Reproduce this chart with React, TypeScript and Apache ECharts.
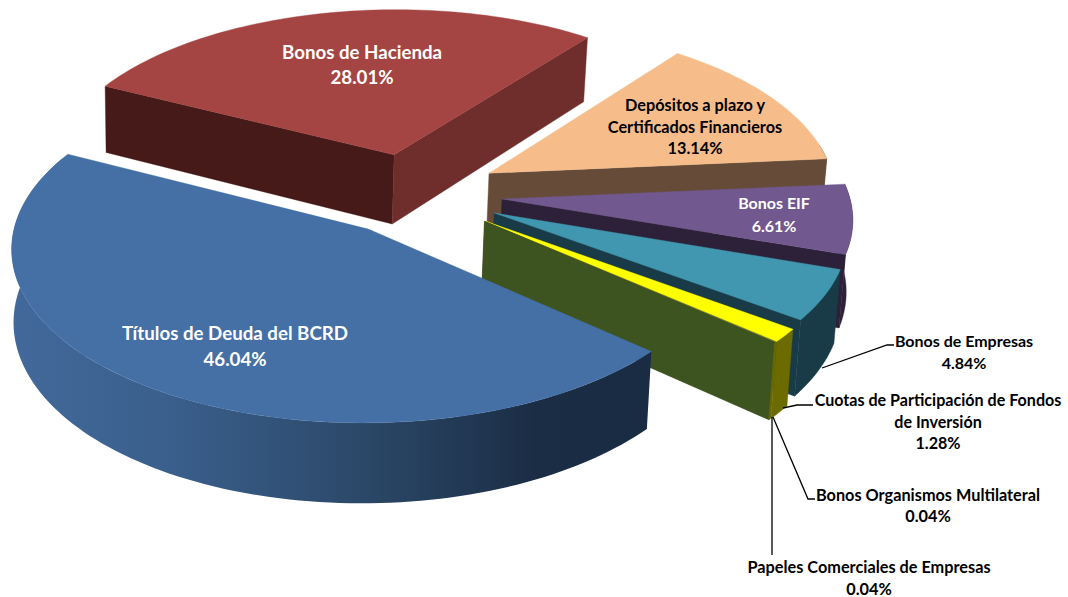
import React, { useEffect, useRef } from "react";
import * as echarts from "echarts";

const categories = [
  "Títulos de Deuda del BCRD",
  "Bonos de Hacienda",
  "Depósitos a plazo y\nCertificados Financieros",
  "Bonos EIF",
  "Bonos de Empresas",
  "Cuotas de Participación de Fondos\nde Inversión",
  "Bonos Organismos Multilateral",
  "Papeles Comerciales de Empresas",
];
const shares = [46.04, 28.01, 13.14, 6.61, 4.84, 1.28, 0.04, 0.04];

// Pie plane style: top colour, start-cut face, end-cut face, rim wall
const topColors = ["#4470A6", "#A54543", "#F6BD8B", "#71588F", "#4097AF", "#FFFF00", "#7F8F60", "#3E5420"];
const startFace = ["#1A2C44", "#451A18", "#664C38", "#2D2139", "#193A47", "#6B6B00", "#3E5420", "#3E5420"];
const endFace = ["#1A2C44", "#6F2D2B", "#664C38", "#2D2139", "#193A47", "#6B6B00", "#3E5420", "#3E5420"];
const wallColors = ["", "#6F2D2B", "#664C38", "#2D2139", "#193A47", "#6B6B00", "#6B6B00", "#6B6B00"];
const explodeX = [-0.132, -0.0615, 0.216, 0.25, 0.2256, 0.2, 0.197, 0.197];
const explodeY = [0.176, -0.27, -0.156, 0, 0.0827, 0.13, 0.132, 0.132];
const drawRank = [7, 0, 1, 2, 3, 4, 5, 6];

const START_ANGLE = 41;
const CX = 415;
const CY = 199;
const RX = 348;
const RY = 168;
const PERSP = 0.1;
const WALL = 71;
const VANISH_X = 200;
const BOTTOM_SCALE = 0.99;

const proj = (X: number, Y: number, bottom: boolean): number[] => {
  const s = 1 / (1 - PERSP * Y);
  let x = CX + RX * X * s;
  let y = CY + RY * Y * s;
  if (bottom) {
    y += WALL * s;
    x = VANISH_X + (x - VANISH_X) * BOTTOM_SCALE;
  }
  return [x, y];
};

const rad = (d: number) => (d * Math.PI) / 180;

const arcAngles = (a: number, b: number) => {
  const n = Math.max(2, Math.ceil((b - a) / 1.5));
  const out: number[] = [];
  for (let i = 0; i <= n; i++) out.push(a + ((b - a) * i) / n);
  return out;
};

const blueWall = () =>
  new echarts.graphic.LinearGradient(0, 0, 1, 0, [
    { offset: 0, color: "#42699A" },
    { offset: 0.25, color: "#3A5F8C" },
    { offset: 0.55, color: "#2B4868" },
    { offset: 0.82, color: "#1B2D45" },
    { offset: 1, color: "#1A2C44" },
  ]);

const renderSlice = (params: any, api: any) => {
  const i = params.dataIndex;
  let before = 0;
  for (let k = 0; k < i; k++) before += shares[k];
  const a1 = START_ANGLE + (before / 100) * 360;
  const a2 = a1 + (api.value(0) / 100) * 360;
  const ex = explodeX[i];
  const ey = explodeY[i];
  const rim = (a: number, bottom: boolean) => proj(ex + Math.cos(rad(a)), ey + Math.sin(rad(a)), bottom);
  const z = drawRank[i] * 10;
  const children: any[] = [];
  const poly = (points: number[][], fill: any, z2: number) =>
    children.push({ type: "polygon", shape: { points }, style: { fill, stroke: typeof fill === "string" ? fill : undefined, lineWidth: 0.4 }, z2 });

  // radial cut faces, drawn only when they turn towards the viewer
  if (Math.cos(rad(a1)) < 0) {
    poly([proj(ex, ey, false), rim(a1, false), rim(a1, true), proj(ex, ey, true)], startFace[i], z + 1);
  }
  if (Math.cos(rad(a2)) > 0) {
    poly([proj(ex, ey, false), rim(a2, false), rim(a2, true), proj(ex, ey, true)], endFace[i], z + 2);
  }
  // rim wall: the front of the circle, up to the silhouette on both sides
  const ranges = [[-10, 205], [350, 565]];
  ranges.forEach(([lo, hi]) => {
    const from = Math.max(a1, lo);
    const to = Math.min(a2, hi);
    if (to > from) {
      const angles = arcAngles(from, to);
      const pts = angles.map((a) => rim(a, false)).concat(angles.slice().reverse().map((a) => rim(a, true)));
      poly(pts, i === 0 ? blueWall() : wallColors[i], z + 3);
    }
  });
  // top surface
  poly([proj(ex, ey, false), ...arcAngles(a1, a2).map((a) => rim(a, false))], topColors[i], z + 4);
  return { type: "group", children };
};

const labelX = [235, 362, 695, 774, 964, 938, 928, 869];
const labelY = [346, 64, 126, 214, 351, 421, 505, 577];
const labelLine = [26, 25, 21.5, 23, 22, 21.5, 21.5, 22];
const labelSize = [18.7, 18.7, 16.3, 16, 16, 16.1, 16.3, 16.3];
const labelFill = ["#fff", "#fff", "#000", "#fff", "#000", "#000", "#000", "#000"];

const leaders = [
  [[894, 345], [887, 345], [822, 368]],
  [[813, 405], [797, 405], [783, 408]],
  [[815, 499], [808, 499], [773, 417]],
  [[772, 555], [772, 417]],
];

export default function App() {
  const ref = useRef<HTMLDivElement>(null);
  useEffect(() => {
    const chart = echarts.init(ref.current!, undefined, { renderer: "svg" });
    chart.setOption({
      animation: false,
      backgroundColor: "#fff",
      series: [
        {
          type: "custom",
          coordinateSystem: "none",
          silent: true,
          data: shares,
          renderItem: renderSlice,
        },
      ],
      graphic: [
        ...leaders.map((points) => ({
          type: "polyline",
          z: 100,
          shape: { points },
          style: { stroke: "#000", lineWidth: 1.3, fill: "none" },
        })),
        ...categories.map((name, i) => ({
          type: "text",
          z: 101,
          x: labelX[i],
          y: labelY[i],
          style: {
            text: `${name}\n${shares[i].toFixed(2)}%`,
            fontFamily: "Lato",
            fontWeight: "bold",
            fontSize: labelSize[i],
            lineHeight: labelLine[i],
            fill: labelFill[i],
            align: "center",
            verticalAlign: "middle",
          },
        })),
      ],
    });
    return () => chart.dispose();
  }, []);
  return <div ref={ref} style={{ position: "absolute", left: 0, top: 0, width: 1068, height: 597 }} />;
}
